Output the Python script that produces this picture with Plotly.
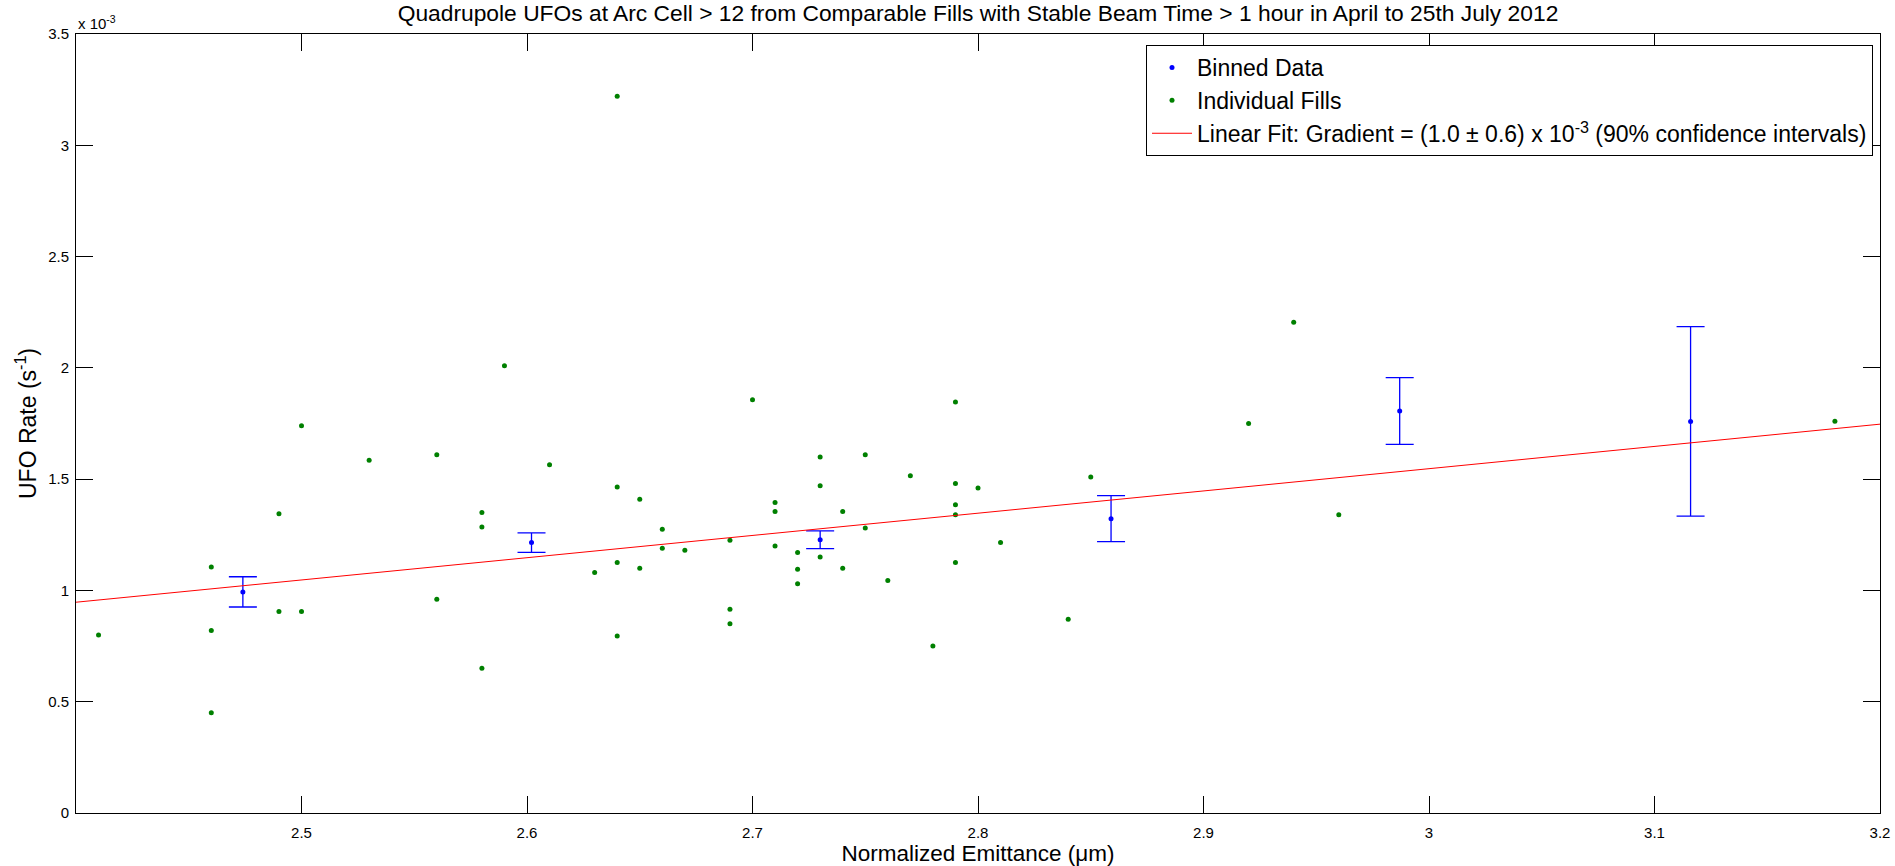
import plotly.graph_objects as go

# Individual fills (x: normalized emittance in um, y: UFO rate in units of 1e-3 s^-1)
fill_x = [2.41, 2.46, 2.46, 2.46, 2.49, 2.49, 2.50, 2.50, 2.53, 2.56, 2.56,
          2.58, 2.58, 2.58, 2.59, 2.61, 2.63, 2.64, 2.64, 2.64, 2.64, 2.65, 2.65,
          2.66, 2.66, 2.67, 2.69, 2.69, 2.69, 2.70, 2.71, 2.71, 2.71,
          2.72, 2.72, 2.72, 2.73, 2.73, 2.73, 2.74, 2.74, 2.75, 2.75, 2.76,
          2.77, 2.78, 2.79, 2.79, 2.79, 2.79, 2.79, 2.80, 2.81, 2.84, 2.85,
          2.92, 2.94, 2.96, 3.18]
fill_y = [0.80, 1.105, 0.82, 0.45, 1.345, 0.905, 1.74, 0.905, 1.585, 1.61, 0.96,
          1.35, 1.285, 0.65, 2.01, 1.565, 1.08, 3.22, 1.465, 1.125, 0.795, 1.41, 1.10,
          1.275, 1.19, 1.18, 1.225, 0.915, 0.85, 1.857, 1.395, 1.355, 1.20,
          1.17, 1.095, 1.03, 1.60, 1.47, 1.15, 1.355, 1.10, 1.61, 1.28, 1.045,
          1.515, 0.75, 1.847, 1.48, 1.385, 1.34, 1.125, 1.46, 1.215, 0.87, 1.51,
          1.75, 2.205, 1.34, 1.76]

# Binned data with error bars
bin_x = [2.474, 2.602, 2.730, 2.859, 2.987, 3.116]
bin_y = [0.9935, 1.215, 1.2275, 1.3225, 1.806, 1.7595]
bin_err = [0.068, 0.044, 0.040, 0.103, 0.150, 0.426]

# Linear fit end points
fit_x = [2.4, 3.2]
fit_y = [0.947, 1.747]

x_ticks = [2.5, 2.6, 2.7, 2.8, 2.9, 3.0, 3.1, 3.2]
x_tick_labels = ["2.5", "2.6", "2.7", "2.8", "2.9", "3", "3.1", "3.2"]
y_ticks = [0, 0.5, 1, 1.5, 2, 2.5, 3, 3.5]
y_tick_labels = ["0", "0.5", "1", "1.5", "2", "2.5", "3", "3.5"]

FONT = "Liberation Sans, Arial, sans-serif"

fig = go.Figure()
fig.add_trace(go.Scatter(
    x=bin_x, y=bin_y, mode="markers", name="Binned Data",
    marker=dict(color="#0000ff", size=5),
    error_y=dict(type="data", array=bin_err, visible=True,
                 color="#0000ff", thickness=1.3, width=14),
))
fig.add_trace(go.Scatter(
    x=fill_x, y=fill_y, mode="markers", name="Individual Fills",
    marker=dict(color="#008000", size=5),
))
fig.add_trace(go.Scatter(
    x=fit_x, y=fit_y, mode="lines",
    name="Linear Fit: Gradient = (1.0 ± 0.6) x 10<sup>-3</sup> (90% confidence intervals)",
    line=dict(color="#ff0000", width=1),
))

axis_common = dict(
    showline=True, linecolor="#000000", linewidth=1, mirror="ticks",
    ticks="inside", ticklen=17, tickwidth=1, tickcolor="#000000",
    showgrid=False, zeroline=False, automargin=False,
    tickfont=dict(family=FONT, size=15, color="#000000"),
)

fig.update_layout(
    width=1895, height=866,
    paper_bgcolor="white", plot_bgcolor="white",
    margin=dict(l=76, r=15, t=34, b=53),
    font=dict(family=FONT, color="#000000"),
    title=dict(
        text="Quadrupole UFOs at Arc Cell > 12 from Comparable Fills with Stable Beam Time > 1 hour in April to 25th July 2012",
        font=dict(family=FONT, size=22.8, color="#000000"),
        x=0.5, xref="paper", xanchor="center",
        y=1 - 13.5 / 866, yref="container", yanchor="middle",
    ),
    xaxis=dict(
        range=[2.4, 3.2], tickvals=x_ticks, ticktext=x_tick_labels,
        ticklabelstandoff=6,
        title=dict(text="Normalized Emittance (μm)", font=dict(family=FONT, size=22.5), standoff=3),
        **axis_common,
    ),
    yaxis=dict(
        range=[0, 3.5], tickvals=y_ticks, ticktext=y_tick_labels,
        ticklabelstandoff=3,
        title=dict(text="UFO Rate (s<sup>-1</sup>)", font=dict(family=FONT, size=23), standoff=5),
        **axis_common,
    ),
    legend=dict(
        x=1 - 7 / 1804, xanchor="right", xref="paper",
        y=1 - 11 / 779, yanchor="top", yref="paper",
        bgcolor="white", bordercolor="#000000", borderwidth=1,
        font=dict(family=FONT, size=23, color="#000000"),
        tracegroupgap=0, itemwidth=40,
    ),
    showlegend=True,
    annotations=[dict(
        text="x 10<sup>-3</sup>", xref="paper", yref="paper",
        x=0, xanchor="left", y=1 + 11 / 779, yanchor="middle",
        showarrow=False, font=dict(family=FONT, size=15, color="#000000"),
    )],
)

fig.write_html(
    "out.html",
    config={"displayModeBar": False},
    post_script="document.body.style.margin='0';document.body.style.overflow='hidden';",
)
